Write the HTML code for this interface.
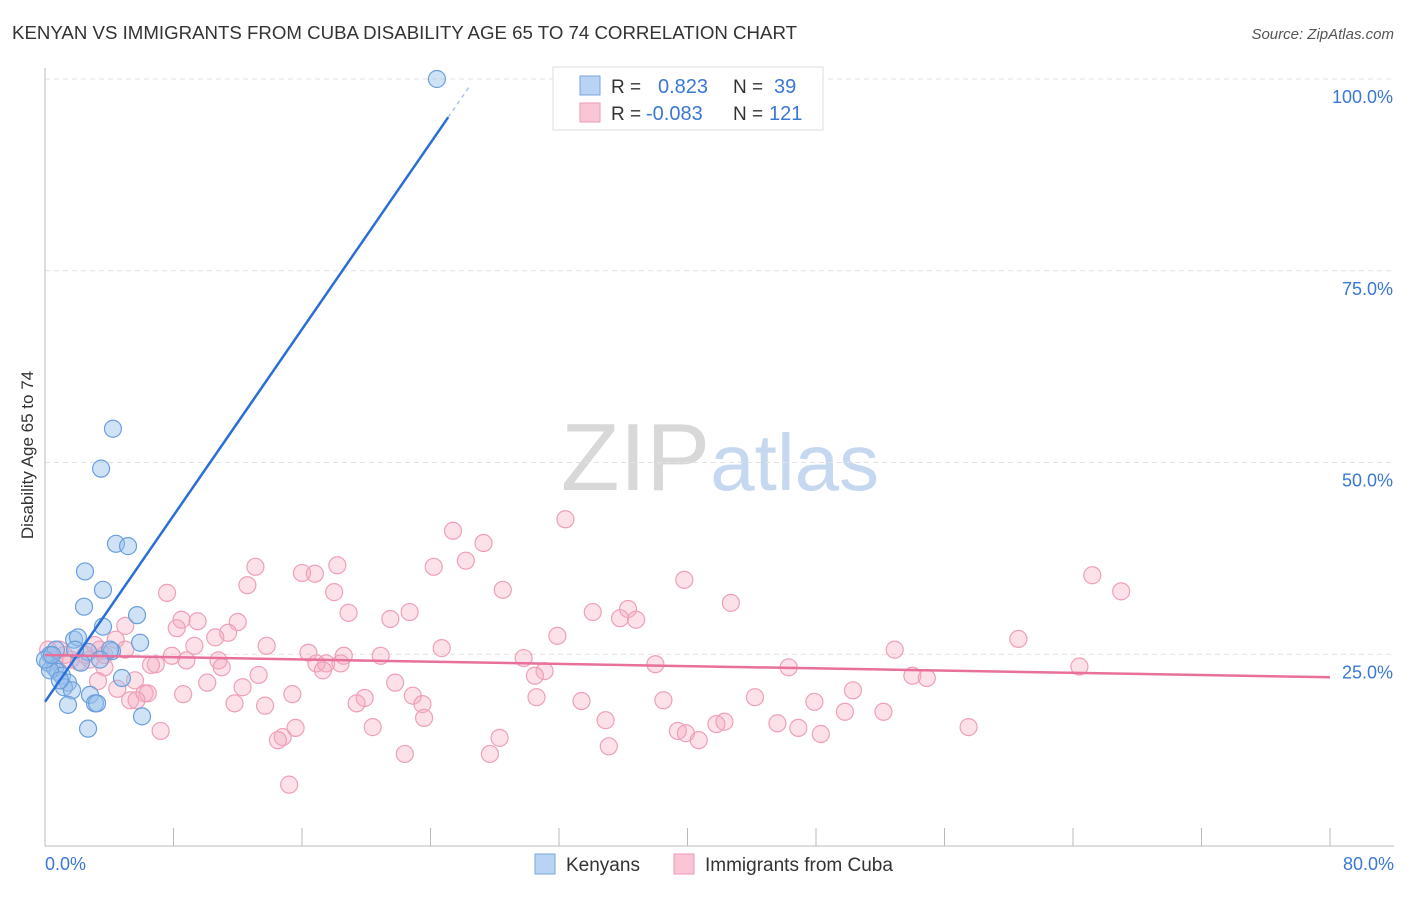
<!DOCTYPE html>
<html><head><meta charset="utf-8"><style>
body{margin:0;background:#fff;font-family:"Liberation Sans",sans-serif}
svg text{font-family:"Liberation Sans",sans-serif}
</style></head><body>
<svg id="chart" width="1406" height="892" xmlns="http://www.w3.org/2000/svg">
<text x="12" y="39" font-size="18" fill="#333" textLength="785" lengthAdjust="spacingAndGlyphs">KENYAN VS IMMIGRANTS FROM CUBA DISABILITY AGE 65 TO 74 CORRELATION CHART</text>
<text x="1394" y="39" font-size="15" fill="#555" text-anchor="end" font-style="italic">Source: ZipAtlas.com</text>
<text x="720" y="490" font-size="96" text-anchor="middle" fill="#ddd" font-family="Liberation Serif"><tspan fill="#d8d8d8">ZIP</tspan><tspan fill="#c5d8ef" font-family="Liberation Sans" font-size="80">atlas</tspan></text>
<text transform="translate(33,455) rotate(-90)" font-size="17" fill="#333" text-anchor="middle">Disability Age 65 to 74</text>
<g id="grid"></g><g id="axes"></g><g id="pts"></g><g id="lines"></g>
<g>
<rect x="553" y="67" width="270" height="63" fill="#fff" stroke="#ddd"/>
<rect x="580" y="76" width="20" height="19" fill="#b8d3f3" stroke="#7aa6dc"/>
<rect x="580" y="103" width="20" height="19" fill="#f9c6d6" stroke="#ee9ab5"/>
<text x="611" y="93" font-size="19" fill="#333">R =</text>
<text x="658" y="93" font-size="20" fill="#3a78d4">0.823</text>
<text x="733" y="93" font-size="19" fill="#333">N =</text>
<text x="774" y="93" font-size="20" fill="#3a78d4">39</text>
<text x="611" y="120" font-size="19" fill="#333">R =</text>
<text x="646" y="120" font-size="20" fill="#3a78d4">-0.083</text>
<text x="733" y="120" font-size="19" fill="#333">N =</text>
<text x="769" y="120" font-size="20" fill="#3a78d4">121</text>
</g>
<g>
<rect x="535" y="854" width="20" height="20" fill="#b8d3f3" stroke="#7aa6dc"/>
<text x="566" y="871" font-size="19" fill="#333">Kenyans</text>
<rect x="674" y="854" width="20" height="20" fill="#f9c6d6" stroke="#ee9ab5"/>
<text x="705" y="871" font-size="19" fill="#333">Immigrants from Cuba</text>
</g>
</svg>
<script>
const yTicks=[25,50,75,100];
const yTickLabels=["25.0%","50.0%","75.0%","100.0%"];
const xTickLabels=["0.0%","80.0%"];
const kenX=[24.4,4.23,3.49,4.42,5.17,2.49,3.61,2.43,5.73,3.61,5.92,1.81,2.05,2.68,4.17,2.24,0.31,0.19,0.62,0.81,1.06,1.43,1.18,1.68,4.79,2.80,3.11,3.24,1.43,6.04,2.68,0.31,0.68,4.05,0.93,0,0.44,3.42,1.87];
const kenY=[100,54.4,49.2,39.4,39.1,35.8,33.4,31.2,30.1,28.6,26.5,26.9,27.2,25.3,25.4,23.9,24.9,23.9,23.2,22.7,22.2,21.3,20.7,20.3,21.9,19.7,18.6,18.6,18.4,16.9,15.3,22.9,25.6,25.6,21.6,24.3,24.9,24.3,25.6];
const cubX=[32.4,25.4,27.3,26.2,18.2,13.1,16.0,16.8,24.2,12.6,7.6,28.5,39.8,65.2,67.0,18.0,42.7,22.7,18.9,34.1,36.3,35.8,36.8,8.5,9.5,12.0,21.5,8.2,5.0,11.4,10.6,31.9,60.6,52.9,13.8,24.7,9.3,16.4,18.6,20.9,29.8,7.9,6.9,6.6,8.8,10.8,11.0,16.9,17.5,18.4,17.3,38.0,46.3,64.4,31.1,30.5,3.7,3.3,10.1,21.8,13.3,12.3,50.3,54.0,54.9,4.5,6.2,6.4,8.6,15.4,19.9,22.9,30.6,33.4,38.5,44.2,47.9,5.3,5.7,11.8,13.7,19.4,23.5,49.8,52.2,34.9,23.6,42.3,41.8,45.6,46.9,48.3,57.5,15.6,20.4,39.4,39.9,7.2,14.8,14.5,28.3,40.7,35.1,27.7,22.4,15.2,3.4,4.4,0.9,1.6,2.5,0.2,0.6,3.1,5.0,1.2,2.1,3.7,2.8,5.6];
const cubY=[42.6,41.1,39.5,37.2,36.6,36.4,35.6,35.5,36.4,34.0,33.0,33.4,34.7,35.3,33.2,33.1,31.7,30.5,30.4,30.5,30.9,29.7,29.5,29.5,29.3,29.2,29.6,28.4,28.7,27.8,27.2,27.4,27.0,25.6,26.1,25.8,26.1,25.2,24.8,24.8,24.5,24.8,23.7,23.6,24.2,24.2,23.3,23.8,23.8,23.8,22.9,23.7,23.3,23.4,22.8,22.2,23.3,21.5,21.3,21.3,22.3,20.7,20.3,22.2,21.9,20.5,19.9,19.9,19.8,19.8,19.3,19.6,19.4,18.9,19.0,19.4,18.8,19.0,19.0,18.6,18.3,18.6,18.5,17.5,17.5,16.4,16.7,16.2,15.9,16.0,15.4,14.6,15.5,15.4,15.5,15.0,14.7,15.0,14.2,13.8,14.1,13.8,13.0,12.0,12.0,8.0,25.6,26.9,25.6,24.3,24.9,25.6,24.3,26.2,25.6,24.9,24.0,24.9,24.3,21.6];
const kenLine=[0,18.8,25.1,95.0];
const cubLine=[0,24.9,80,22.0];
const NS="http://www.w3.org/2000/svg";
const X=v=>45+v/80*1285, Y=v=>846-v*7.67;
function mk(t,a,p){const e=document.createElementNS(NS,t);for(const k in a)e.setAttribute(k,a[k]);p.appendChild(e);return e;}
const grid=document.getElementById('grid'),axes=document.getElementById('axes');
yTicks.forEach((t,i)=>{
 const l=mk('line',{x1:45,x2:1394,y1:Y(t),y2:Y(t),stroke:'#e2e2e2','stroke-dasharray':'5,4'},grid);
 
 
 const tx=mk('text',{x:1393,y:Y(t)+24,'font-size':18,fill:'#3a78d4','text-anchor':'end'},axes);
 tx.textContent=yTickLabels[i];
 
 
});
const ax=mk('line',{x1:45,x2:45,y1:68,y2:846,stroke:'#bbb'},axes);


const bx=mk('line',{x1:45,x2:1394,y1:846,y2:846,stroke:'#bbb'},axes);


for(let i=0;i<=10;i++){const t=mk('line',{x1:X(i*8),x2:X(i*8),y1:828,y2:846,stroke:'#bbb'},axes);
 
 }
[[0,'start',45],[80,'end',1394]].forEach((d,i)=>{const t=mk('text',{x:d[2],y:870,'font-size':18,fill:'#3a78d4','text-anchor':d[1]},axes);t.textContent=xTickLabels[i];
 
 });
const pts=document.getElementById('pts');
cubX.forEach((x,i)=>{const c=mk('circle',{cx:X(x),cy:Y(cubY[i]),r:8.5,fill:'rgba(246,168,193,0.35)',stroke:'#eea0b9','stroke-width':1.2},pts);
 
 });
kenX.forEach((x,i)=>{const c=mk('circle',{cx:X(x),cy:Y(kenY[i]),r:8.5,fill:'rgba(150,190,235,0.45)',stroke:'#6b9fdc','stroke-width':1.2},pts);
 
 });
const lines=document.getElementById('lines');
const k=mk('line',{x1:X(kenLine[0]),y1:Y(kenLine[1]),x2:X(kenLine[2]),y2:Y(kenLine[3]),stroke:'#2a6fd6','stroke-width':2.5},lines);


const sl=(kenLine[3]-kenLine[1])/(kenLine[2]-kenLine[0]);
const kd=mk('line',{x1:X(kenLine[2]),y1:Y(kenLine[3]),x2:X(26.5),y2:Y(kenLine[1]+sl*26.5),stroke:'#aac6ee','stroke-width':1.5,'stroke-dasharray':'4,4'},lines);


const c=mk('line',{x1:X(cubLine[0]),y1:Y(cubLine[1]),x2:X(cubLine[2]),y2:Y(cubLine[3]),stroke:'#e8709a','stroke-width':2.5},lines);


</script>
</body></html>
